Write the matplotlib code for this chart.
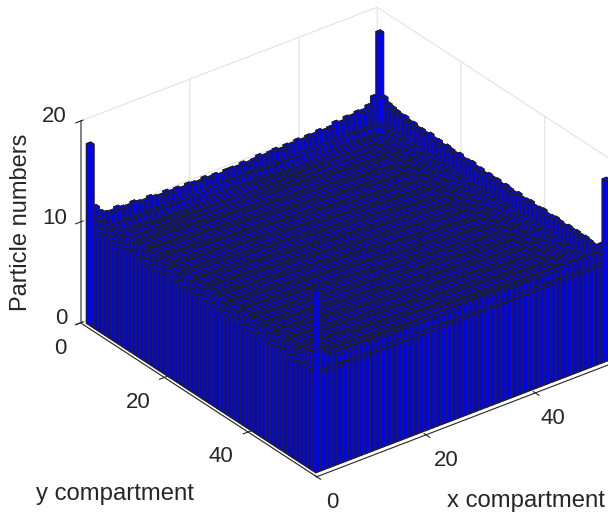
import numpy as np
import matplotlib
matplotlib.use('Agg')
import matplotlib.pyplot as plt

plt.rcParams['font.family'] = ['Liberation Sans', 'DejaVu Sans']

# heights, by distance from the outer wall
n_x = 54
n_y = 55
ring_heights = [10.9, 9.3, 8.8, 8.6, 8.5, 8.4, 8.4]
front_corner = 18.0
corner_neighbours = [11.8, 11.2, 11.0]

# back walls
back_left_row = [17.8, 11.4, 10.7, 10.4, 10.3, 10.5, 10.3, 10.2, 10.4, 10.2,
                 10.1, 10.3, 10.1, 10.0, 10.2, 10.0, 10.1, 9.9, 10.1, 10.0,
                 9.9, 10.1, 9.9, 10.0, 9.8, 10.0, 10.0, 9.9, 10.1, 9.9,
                 10.0, 10.2, 10.0, 10.1, 10.2, 10.0, 10.2, 10.1, 10.3, 10.1,
                 10.3, 10.2, 10.4, 10.2, 10.3, 10.6, 10.4, 10.7, 10.6, 10.8,
                 10.7, 11.0, 11.7, 17.9]
back_right_col = [17.9, 11.7, 11.3, 11.2, 11.1, 11.0, 11.1, 10.9, 11.0, 10.8,
                  10.9, 10.8, 11.0, 10.8, 10.9, 10.7, 10.9, 10.8, 10.7, 10.9,
                  10.7, 10.8, 10.9, 10.7, 10.8, 10.6, 10.8, 10.7, 10.8, 10.6,
                  10.8, 10.7, 10.6, 10.8, 10.6, 10.7, 10.8, 10.6, 10.7, 10.8,
                  10.6, 10.7, 10.8, 10.7, 10.6, 10.8, 10.7, 10.8, 10.7, 10.8,
                  10.7, 10.6, 10.7, 11.2, 17.9]

x_ticks = [0, 20, 40]
y_ticks = [0, 20, 40]
z_ticks = [0, 10, 20]

heights = np.zeros((n_x, n_y))
for i in range(n_x):
    for j in range(n_y):
        depth = min(i, j, n_x - 1 - i, n_y - 1 - j)
        heights[i, j] = ring_heights[min(depth, len(ring_heights) - 1)]

heights[0, n_y - 1] = front_corner
for k, val in enumerate(corner_neighbours):
    heights[k + 1, n_y - 1] = val
    heights[0, n_y - 2 - k] = val

heights[:, 0] = back_left_row
heights[n_x - 1, :] = back_right_col

W, H = 608, 513
fig = plt.figure(figsize=(W / 100, H / 100), dpi=100)
side = 570
ax = fig.add_axes([54.3 / W, -21.7 / H, side / W, side / H], projection='3d', proj_type='ortho')
ax.view_init(elev=30, azim=232.5)
ax.set_box_aspect((374, 388, 233), zoom=1.0)

xpos, ypos = np.meshgrid(np.arange(1, n_x + 1), np.arange(1, n_y + 1), indexing='ij')
width = 0.8
ax.bar3d(xpos.ravel() - width / 2, ypos.ravel() - width / 2, np.zeros(xpos.size),
         width, width, heights.ravel(), color=(0, 0, 1), edgecolor='#222222',
         linewidth=0.7, shade=False)

ax.set_xlim(0, 54.3)
ax.set_ylim(56.4, 0)
ax.set_zlim(0, 20)
ax.set_xticks(x_ticks)
ax.set_yticks(y_ticks)
ax.set_zticks(z_ticks)
ax.set_xticklabels([])
ax.set_yticklabels([])
ax.set_zticklabels([])
ax.tick_params(colors='#262626')
for axis in (ax.xaxis, ax.yaxis, ax.zaxis):
    axis.set_pane_color((1, 1, 1, 0))
    axis._axinfo['grid']['color'] = '#e2e2e2'
    axis._axinfo['grid']['linewidth'] = 0.8
    axis.line.set_color('#262626')
ax.zaxis.line.set_color('#707070')
ax.zaxis.line.set_linewidth(1.2)

txt = dict(color='#262626', va='center')
for val, px, py in zip(z_ticks, [67, 67, 67], [319, 219, 117]):
    fig.text(px / W, 1 - py / H, str(val), fontsize=16, ha='right', **txt)
for val, px, py in zip(y_ticks, [60.5, 138, 221], [349, 403, 457]):
    fig.text(px / W, 1 - py / H, str(val), fontsize=16, ha='center', **txt)
for val, px, py in zip(x_ticks, [332, 446, 553], [503, 461, 419]):
    fig.text(px / W, 1 - py / H, str(val), fontsize=16, ha='center', **txt)

fig.text(21 / W, 1 - 222 / H, 'Particle numbers', rotation=90, fontsize=17, ha='center', **txt)
fig.text(115 / W, 1 - 494 / H, 'y compartment', fontsize=17.2, ha='center', **txt)
fig.text(526 / W, 1 - 501 / H, 'x compartment', fontsize=17.2, ha='center', **txt)

fig.savefig('out.png', dpi=100)
